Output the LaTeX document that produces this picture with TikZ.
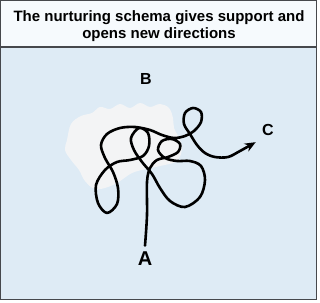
\documentclass[tikz,border=0pt]{standalone}
\usepackage{fontspec}
\setmainfont{Liberation Sans}
\usepackage{tikz}
\usetikzlibrary{arrows.meta}

\definecolor{panelblue}{RGB}{222,235,245}
\definecolor{titlewhite}{RGB}{246,250,253}
\definecolor{framegray}{RGB}{70,72,76}
\definecolor{cloudgray}{RGB}{243,244,245}

\begin{document}
\begin{tikzpicture}[
  x=1pt, y=-1pt,
  frame/.style={draw=framegray, line width=1.3pt},
  letter/.style={font=\bfseries\fontsize{16}{16}\selectfont, inner sep=3pt, outer sep=3.5pt},
  string/.style={line width=2.6pt, line cap=round, line join=round,
                 -{Stealth[length=11pt, width=9pt]}},
]
\useasboundingbox (0,0) rectangle (320,302);
\fill[titlewhite] (0.8,0.8) rectangle (316.6,47);
\fill[panelblue] (0.8,47) rectangle (316.6,299.6);
\draw[frame] (0.8,0.8) rectangle (316.6,299.6);
\draw[frame] (0.8,47) -- (316.6,47);

\node[font=\bfseries\fontsize{15}{17}\selectfont, align=center] (title) at (159,26.5)
  {The nurturing schema gives support and\\opens new directions};

% the white cloud behind the tangle
\fill[cloudgray] plot[smooth cycle, tension=0.6] coordinates {
  (67,140) (71,124) (81,116) (92,113) (100,107) (110,109) (120,104)
  (130,108) (140,103) (150,107) (160,104) (169,108) (173,118) (174,128)
  (179,138) (182,148) (177,161) (160,166) (146,169) (132,173) (120,181)
  (108,187) (95,189) (85,181) (79,170) (71,160) (65,150)};

\node[letter] (B) at (146,79) {B};
\node[letter] (C) at (268,130) {C};
\node[letter, font=\bfseries\fontsize{20}{20}\selectfont] (A) at (145,259) {A};

\draw[string] plot[smooth, tension=0.55] coordinates {
  (A.north) (147,215) (147,182) (150,168) (157,160) (168,157) (178,152)
  (180,144) (172,139) (162,141) (158,150) (165,158) (177,161) (190,161)
  (201,166) (205,180) (200,197) (185,207) (170,201) (160,188) (152,174)
  (142,162) (134,150) (131,138) (139,128) (148,133) (149,146) (143,156)
  (130,160) (117,162) (105,170) (96,185) (98,203) (107,213) (117,204)
  (118,188) (113,172) (105,158) (101,145) (107,134) (120,128) (135,127)
  (150,130) (162,135) (174,138) (185,136) (194,131) (201,122) (201,112)
  (193,108) (185,113) (184,124) (190,134) (197,145) (205,153) (215,157)
  (228,157) (240,151) (C.south west)};
\end{tikzpicture}
\end{document}
